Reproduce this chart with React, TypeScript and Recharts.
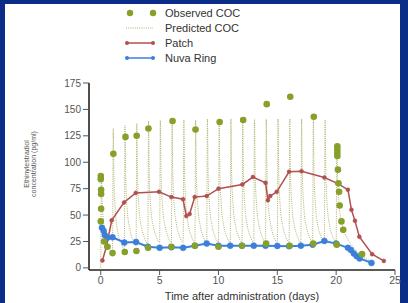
import React from 'react';
import { ComposedChart, Line, Scatter, XAxis, YAxis } from 'recharts';

// time (days), concentration (pg/ml)
const predictedCoc: [number, number][] = [
  [0, 0], [0.06, 86], [0.12, 62], [0.25, 42], [0.45, 28], [0.7, 19],
  [1, 14], [1.06, 132], [1.12, 84], [1.25, 52], [1.45, 34], [1.7, 24],
  [2, 18], [2.06, 135], [2.12, 86], [2.25, 55], [2.45, 38], [2.7, 27],
  [3, 21], [3.06, 137], [3.12, 88], [3.25, 56], [3.45, 39], [3.7, 29],
  [4, 23], [4.06, 139], [4.12, 89], [4.25, 57], [4.45, 40], [4.7, 30],
  [5, 24], [5.06, 140], [5.12, 90], [5.25, 58], [5.45, 40], [5.7, 30],
  [6, 24], [6.06, 140], [6.12, 90], [6.25, 58], [6.45, 40], [6.7, 30],
  [7, 24], [7.06, 140], [7.12, 90], [7.25, 58], [7.45, 40], [7.7, 30],
  [8, 24], [8.06, 140], [8.12, 90], [8.25, 58], [8.45, 40], [8.7, 30],
  [9, 24], [9.06, 141], [9.12, 90], [9.25, 58], [9.45, 40], [9.7, 30],
  [10, 24], [10.06, 141], [10.12, 90], [10.25, 58], [10.45, 40], [10.7, 30],
  [11, 24], [11.06, 141], [11.12, 90], [11.25, 58], [11.45, 40], [11.7, 30],
  [12, 24], [12.06, 141], [12.12, 90], [12.25, 58], [12.45, 40], [12.7, 30],
  [13, 24], [13.06, 141], [13.12, 90], [13.25, 58], [13.45, 40], [13.7, 30],
  [14, 24], [14.06, 141], [14.12, 90], [14.25, 58], [14.45, 40], [14.7, 30],
  [15, 24], [15.06, 141], [15.12, 90], [15.25, 58], [15.45, 40], [15.7, 30],
  [16, 24], [16.06, 141], [16.12, 90], [16.25, 58], [16.45, 40], [16.7, 30],
  [17, 24], [17.06, 141], [17.12, 90], [17.25, 58], [17.45, 40], [17.7, 30],
  [18, 24], [18.06, 141], [18.12, 90], [18.25, 58], [18.45, 40], [18.7, 30],
  [19, 24], [19.06, 140], [19.12, 90], [19.25, 58], [19.45, 40], [19.7, 30],
  [20, 25], [20.06, 118], [20.12, 85], [20.25, 60], [20.45, 44], [20.7, 34],
  [21, 27], [21.5, 19], [22, 13], [22.5, 9], [23, 6],
];

const observedCoc: [number, number][] = [
  [0, 87], [0, 84], [0.03, 74], [0.03, 70], [0.03, 56], [0, 44], [0.28, 25], [0.57, 20], [1.0, 14],
  [1.07, 108], [2.04, 15], [2.1, 124], [3.03, 16], [3.05, 125], [4.02, 19], [4.05, 132],
  [6.0, 20], [6.1, 139], [8.0, 21], [8.05, 131], [10.0, 20], [10.1, 138], [12.0, 21], [12.1, 140],
  [14.05, 23], [14.1, 155], [16.05, 21], [16.1, 162], [18.05, 23], [18.1, 143],
  [20.05, 22], [20.1, 115], [20.1, 112], [20.1, 109], [20.1, 106], [20.15, 93], [20.2, 80],
  [20.25, 72], [20.3, 59], [20.45, 44], [20.6, 36], [22.2, 13],
];

const patch: [number, number][] = [
  [0.14, 7], [0.48, 20], [0.93, 45], [1.98, 62], [2.97, 71], [4.95, 72], [6.0, 67], [6.99, 65],
  [7.27, 49], [7.55, 51], [7.98, 67], [9.0, 68], [10.0, 75], [12.03, 79], [12.93, 86], [14.0, 80.5],
  [14.2, 64], [14.4, 68], [14.95, 72], [16.0, 91], [17.06, 91.5], [19.0, 85.5], [20.1, 80],
  [21.0, 74], [21.3, 55], [21.6, 44.5], [21.97, 29.5], [23.06, 13], [24.05, 6.6],
];

const nuvaRing: [number, number][] = [
  [0.1, 38], [0.25, 35], [0.35, 31], [0.55, 28.5], [1.0, 29], [2.0, 24], [3.0, 24.5], [4.0, 20],
  [5.0, 19], [6.0, 19.5], [7.0, 19], [8.0, 21], [9.0, 23], [10.0, 21], [11.0, 21], [12.0, 21],
  [13.0, 21], [14.0, 21], [15.0, 20.8], [16.0, 20.5], [17.0, 21], [18.0, 22], [19.0, 25.5],
  [20.0, 23], [21.0, 19], [21.25, 17], [21.5, 13.5], [21.75, 11], [22.0, 9], [23.0, 4.7],
];

const xTicks = [0, 5, 10, 15, 20, 25];
const yTicks = [0, 25, 50, 75, 100, 125, 150, 175];

const GREEN = '#86a02a';
const PRED = '#aeb26c';
const PATCH = '#b0504f';
const RING = '#3b7fdc';

const toRows = (pts: [number, number][]) => pts.map(([t, v]) => ({ t, v }));

const legendItems = [
  { name: 'Observed COC', kind: 'dots', color: GREEN },
  { name: 'Predicted COC', kind: 'dotted', color: PRED },
  { name: 'Patch', kind: 'line', color: PATCH },
  { name: 'Nuva Ring', kind: 'line', color: RING },
];

function ChartLegend() {
  return (
    <div style={{ position: 'absolute', left: 124, top: 5.5 }}>
      {legendItems.map((item) => (
        <div key={item.name} style={{ display: 'flex', alignItems: 'center', height: 15 }}>
          <svg width={34} height={10} style={{ marginRight: 7 }}>
            {item.kind === 'dots' && (
              <>
                <circle cx={6} cy={5} r={3.2} fill={item.color} />
                <circle cx={29} cy={5} r={3.2} fill={item.color} />
              </>
            )}
            {item.kind === 'dotted' && (
              <line x1={2} y1={5} x2={29} y2={5} stroke={item.color} strokeDasharray="1 1.2" />
            )}
            {item.kind === 'line' && (
              <>
                <line x1={3} y1={5} x2={29} y2={5} stroke={item.color} strokeWidth={1.5} />
                <circle cx={3} cy={5} r={2} fill={item.color} />
                <circle cx={29} cy={5} r={2} fill={item.color} />
              </>
            )}
          </svg>
          <span style={{ fontSize: 11, color: '#333' }}>{item.name}</span>
        </div>
      ))}
    </div>
  );
}

const YLabel = () => (
  <text fontSize={7} fill="#555" textAnchor="middle" transform="rotate(-90, 32, 164)">
    <tspan x={32} y={160.5}>Ethinylestradiol</tspan>
    <tspan x={32} y={168}>concentration (pg/ml)</tspan>
  </text>
);

const ObservedDot = (props: any) => <circle cx={props.cx} cy={props.cy} r={3.3} fill={GREEN} />;

export default function App() {
  return (
    <div
      style={{
        position: 'absolute', left: 0, top: 0, width: 408, height: 303,
        background: '#0b2c87', fontFamily: '"Liberation Sans", Arial, sans-serif',
      }}
    >
      {/* white slide panel */}
      <div style={{ position: 'absolute', left: 5, top: 4, width: 395, height: 299, background: '#fff' }} />

      <div style={{ position: 'absolute', left: 0, top: 0 }}>
        <ComposedChart width={408} height={303} margin={{ top: 83, right: 13, bottom: 0, left: 29 }}>
          <XAxis
            type="number"
            dataKey="t"
            domain={[-1, 25]}
            ticks={xTicks}
            allowDataOverflow
            height={33}
            tickSize={5}
            axisLine={{ stroke: '#222', strokeWidth: 1.6 }}
            tickLine={{ stroke: '#555' }}
            tick={{ fontSize: 10.5, fill: '#555' }}
            label={{ value: 'Time after administration (days)', position: 'insideBottom', offset: 3, fontSize: 11, fill: '#333' }}
          />
          <YAxis
            type="number"
            domain={[-2, 175]}
            ticks={yTicks}
            allowDataOverflow
            width={60}
            tickSize={6}
            tickMargin={2}
            axisLine={{ stroke: '#222', strokeWidth: 1.6 }}
            tickLine={{ stroke: '#555' }}
            tick={{ fontSize: 10, fill: '#555' }}
            label={<YLabel />}
          />
          <Line
            data={toRows(predictedCoc)}
            dataKey="v"
            name="Predicted COC"
            type="monotone"
            stroke={PRED}
            strokeWidth={1}
            strokeDasharray="1 1.2"
            dot={false}
            isAnimationActive={false}
          />
          <Line
            data={toRows(patch)}
            dataKey="v"
            name="Patch"
            type="linear"
            stroke={PATCH}
            strokeWidth={1.5}
            dot={{ r: 2, fill: PATCH, stroke: PATCH, strokeWidth: 0.5 }}
            isAnimationActive={false}
          />
          <Line
            data={toRows(nuvaRing)}
            dataKey="v"
            name="Nuva Ring"
            type="linear"
            stroke={RING}
            strokeWidth={2}
            dot={{ r: 3, fill: RING, stroke: RING, strokeWidth: 0.5 }}
            isAnimationActive={false}
          />
          <Scatter
            data={toRows(observedCoc)}
            dataKey="v"
            name="Observed COC"
            shape={ObservedDot}
            isAnimationActive={false}
          />
        </ComposedChart>
      </div>
      <ChartLegend />
    </div>
  );
}
